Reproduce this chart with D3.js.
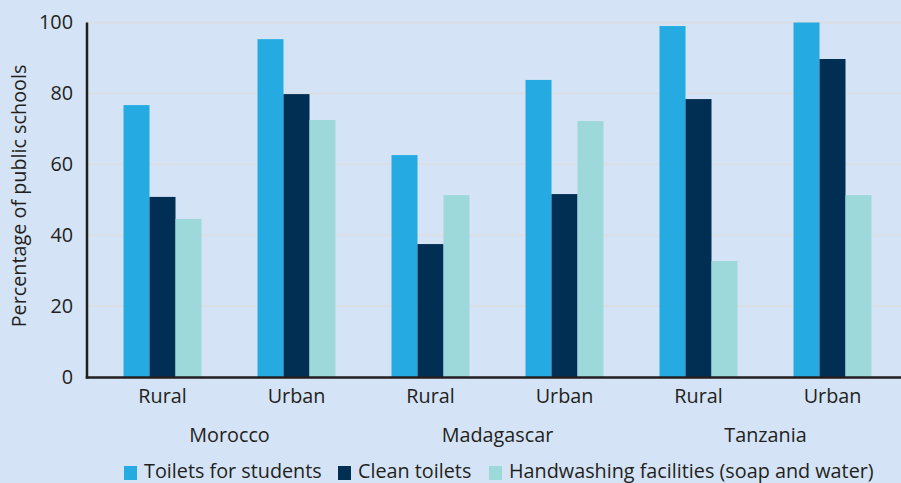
<!DOCTYPE html>
<html>
<head>
<meta charset="utf-8">
<script src="https://cdn.jsdelivr.net/npm/d3@7"></script>
<style>
  body { margin: 0; background: #d4e3f5; }
  svg { display: block; font-family: "Open Sans", sans-serif; }
</style>
</head>
<body>
<div id="chart"></div>
<script>
// data
var countries = ["Morocco", "Madagascar", "Tanzania"];
var areas = ["Rural", "Urban"];
var series = ["Toilets for students", "Clean toilets", "Handwashing facilities (soap and water)"];
var colors = ["#25abe2", "#002f53", "#9dd8da"];
var toilets = [76.7, 95.3, 62.6, 83.8, 99.0, 100];
var clean = [50.8, 79.8, 37.5, 51.6, 78.4, 89.7];
var handwash = [44.6, 72.5, 51.3, 72.2, 32.7, 51.3];
var yTicks = [0, 20, 40, 60, 80, 100];

var width = 901, height = 483;
var margin = {top: 22, right: 0, bottom: 106, left: 87};
var fontSize = 19.8;
var textColor = "#231f20";

var groups = [];
countries.forEach(function(c) {
  areas.forEach(function(a) { groups.push(c + "|" + a); });
});
var values = [toilets, clean, handwash];
var data = groups.map(function(g, i) {
  return {key: g, vals: values.map(function(v) { return v[i]; })};
});

var svg = d3.select("#chart")
  .append("svg")
    .attr("width", width)
    .attr("height", height);

svg.append("rect")
  .attr("width", width)
  .attr("height", height)
  .attr("fill", "#d4e3f5");

var y = d3.scaleLinear()
  .domain([0, 100])
  .range([height - margin.bottom, margin.top + 0.5]);

var x0 = d3.scaleBand()
  .domain(groups)
  .range([95.5, 899.5])
  .paddingInner(0.418)
  .paddingOuter(0.209);

var x1 = d3.scaleBand()
  .domain(d3.range(series.length))
  .range([0, x0.bandwidth()]);

// gridlines
svg.append("g")
  .selectAll("line")
  .data(yTicks.filter(function(t) { return t > 0; }))
  .enter()
  .append("line")
    .attr("x1", margin.left)
    .attr("x2", width)
    .attr("y1", function(d) { return y(d); })
    .attr("y2", function(d) { return y(d); })
    .attr("stroke", "#dadfe5")
    .attr("stroke-width", 2);

// bars
svg.append("g")
  .selectAll("g")
  .data(data)
  .enter()
  .append("g")
    .attr("transform", function(d) { return "translate(" + x0(d.key) + ",0)"; })
  .selectAll("rect")
  .data(function(d) { return d.vals; })
  .enter()
  .append("rect")
    .attr("x", function(d, i) { return x1(i); })
    .attr("y", function(d) { return y(d); })
    .attr("width", x1.bandwidth())
    .attr("height", function(d) { return y(0) - y(d); })
    .attr("fill", function(d, i) { return colors[i]; });

// y axis
var yAxis = svg.append("g")
  .attr("transform", "translate(" + margin.left + ",0)")
  .call(d3.axisLeft(y).tickValues(yTicks).tickSize(0).tickPadding(14));
yAxis.select(".domain").remove();
yAxis.selectAll("text")
  .attr("font-size", fontSize)
  .attr("font-family", "'Open Sans', sans-serif")
  .attr("fill", textColor);

svg.append("line")
  .attr("x1", margin.left)
  .attr("x2", margin.left)
  .attr("y1", y(100))
  .attr("y2", y(0) + 1.5)
  .attr("stroke", textColor)
  .attr("stroke-width", 2.5);

// x axis
var xAxis = svg.append("g")
  .attr("transform", "translate(0," + y(0) + ")")
  .call(d3.axisBottom(x0).tickSize(0).tickPadding(12)
    .tickFormat(function(d) { return d.split("|")[1]; }));
xAxis.select(".domain").remove();
xAxis.selectAll("text")
  .attr("font-size", fontSize)
  .attr("font-family", "'Open Sans', sans-serif")
  .attr("fill", textColor);

svg.append("line")
  .attr("x1", margin.left - 1.25)
  .attr("x2", width)
  .attr("y1", y(0) + 0.5)
  .attr("y2", y(0) + 0.5)
  .attr("stroke", textColor)
  .attr("stroke-width", 2.5);

// country labels
svg.append("g")
  .selectAll("text")
  .data(countries)
  .enter()
  .append("text")
    .attr("x", function(c) {
      return (x0(c + "|Rural") + x0(c + "|Urban") + x0.bandwidth()) / 2;
    })
    .attr("y", 442)
    .attr("text-anchor", "middle")
    .attr("font-size", fontSize)
    .attr("fill", textColor)
    .text(function(c) { return c; });

// y title
svg.append("text")
  .attr("transform", "translate(26,196)rotate(-90)")
  .attr("text-anchor", "middle")
  .attr("font-size", fontSize)
  .attr("fill", textColor)
  .text("Percentage of public schools");

// legend
var legendX = [124, 338, 489];
var legend = svg.append("g")
  .selectAll("g")
  .data(series)
  .enter()
  .append("g")
    .attr("transform", function(d, i) { return "translate(" + legendX[i] + ",465)"; });
legend.append("rect")
  .attr("y", 1)
  .attr("width", 13)
  .attr("height", 14)
  .attr("fill", function(d, i) { return colors[i]; });
legend.append("text")
  .attr("x", 20)
  .attr("y", 13)
  .attr("font-size", fontSize)
  .attr("fill", textColor)
  .text(function(d) { return d; });
</script>
</body>
</html>
